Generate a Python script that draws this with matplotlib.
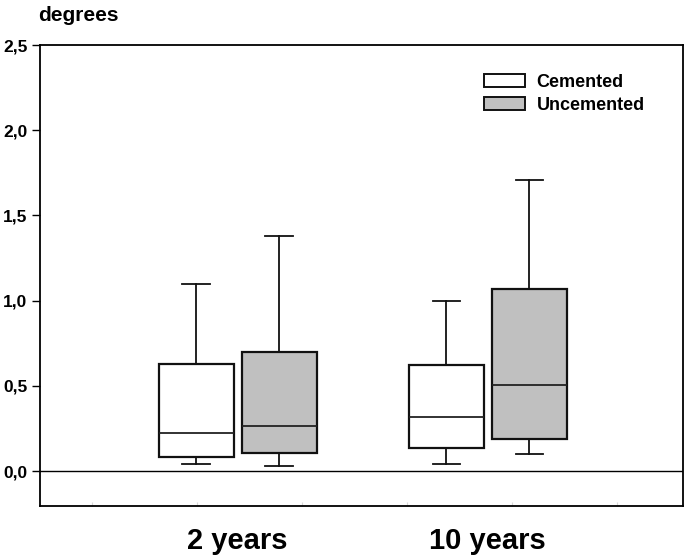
import matplotlib
matplotlib.use('Agg')
import matplotlib.pyplot as plt
from matplotlib.patches import Patch

plt.rcParams['font.family'] = ['Liberation Sans', 'DejaVu Sans']

groups = ['2 years', '10 years']
series = ['Cemented', 'Uncemented']
colors = ['white', '#c0c0c0']

# whislo, q1, med, q3, whishi per group
cemented = [[0.04, 0.085, 0.225, 0.63, 1.10],
            [0.04, 0.133, 0.315, 0.622, 1.00]]
uncemented = [[0.03, 0.107, 0.264, 0.697, 1.38],
              [0.10, 0.188, 0.507, 1.068, 1.706]]
yticks = [0.0, 0.5, 1.0, 1.5, 2.0, 2.5]
yticklabels = ['0,0', '0,5', '1,0', '1,5', '2,0', '2,5']


def make_stats(rows):
    out = []
    for r in rows:
        out.append({'whislo': r[0], 'q1': r[1], 'med': r[2], 'q3': r[3],
                    'whishi': r[4], 'fliers': []})
    return out


fig = plt.figure(figsize=(6.85, 5.59), dpi=100)
ax = fig.add_axes([40 / 685, 1 - 506 / 559, 643 / 685, 461 / 559])

offset = 0.166
width = 0.30
centers = [1, 2]
for data, color, sign in [(cemented, colors[0], -1), (uncemented, colors[1], 1)]:
    pos = [c + sign * offset for c in centers]
    ax.bxp(make_stats(data), positions=pos, widths=width, patch_artist=True,
           showfliers=False, capwidths=0.11,
           boxprops=dict(facecolor=color, edgecolor='#111111', linewidth=1.6),
           medianprops=dict(color='#222222', linewidth=1.3),
           whiskerprops=dict(color='#111111', linewidth=1.3),
           capprops=dict(color='#111111', linewidth=1.3))

ax.axhline(0, color='black', linewidth=1.0, zorder=0)

ax.set_xlim(0.21, 2.78)
ax.set_ylim(-0.205, 2.5)
ax.set_yticks(yticks)
ax.set_yticklabels(yticklabels, fontsize=12.5, fontweight='bold')
ax.tick_params(axis='y', direction='out', length=6, width=1.0, pad=3)

ax.set_xticks(centers)
ax.set_xticklabels(groups, fontsize=21, fontweight='bold')
ax.tick_params(axis='x', length=0, pad=15)
ax.set_xticks([0.419, 0.838, 1.257, 1.676, 2.096, 2.515], minor=True)
ax.tick_params(axis='x', which='minor', direction='in', length=3, width=0.8, color='#d8d8d8')

for s in ax.spines.values():
    s.set_linewidth(1.3)

fig.text(38 / 685, 1 - 21 / 559, 'degrees', fontsize=15, fontweight='bold')

handles = [Patch(facecolor=colors[0], edgecolor='#111111', linewidth=1.4),
           Patch(facecolor=colors[1], edgecolor='#111111', linewidth=1.4)]
leg = ax.legend(handles, series, loc='upper left', bbox_to_anchor=(0.666, 0.973),
                frameon=False, prop=dict(size=13, weight='bold'),
                handlelength=2.27, handleheight=0.7, handletextpad=0.62, labelspacing=0.35,
                borderpad=0.4)

fig.savefig('out.png', dpi=100)
